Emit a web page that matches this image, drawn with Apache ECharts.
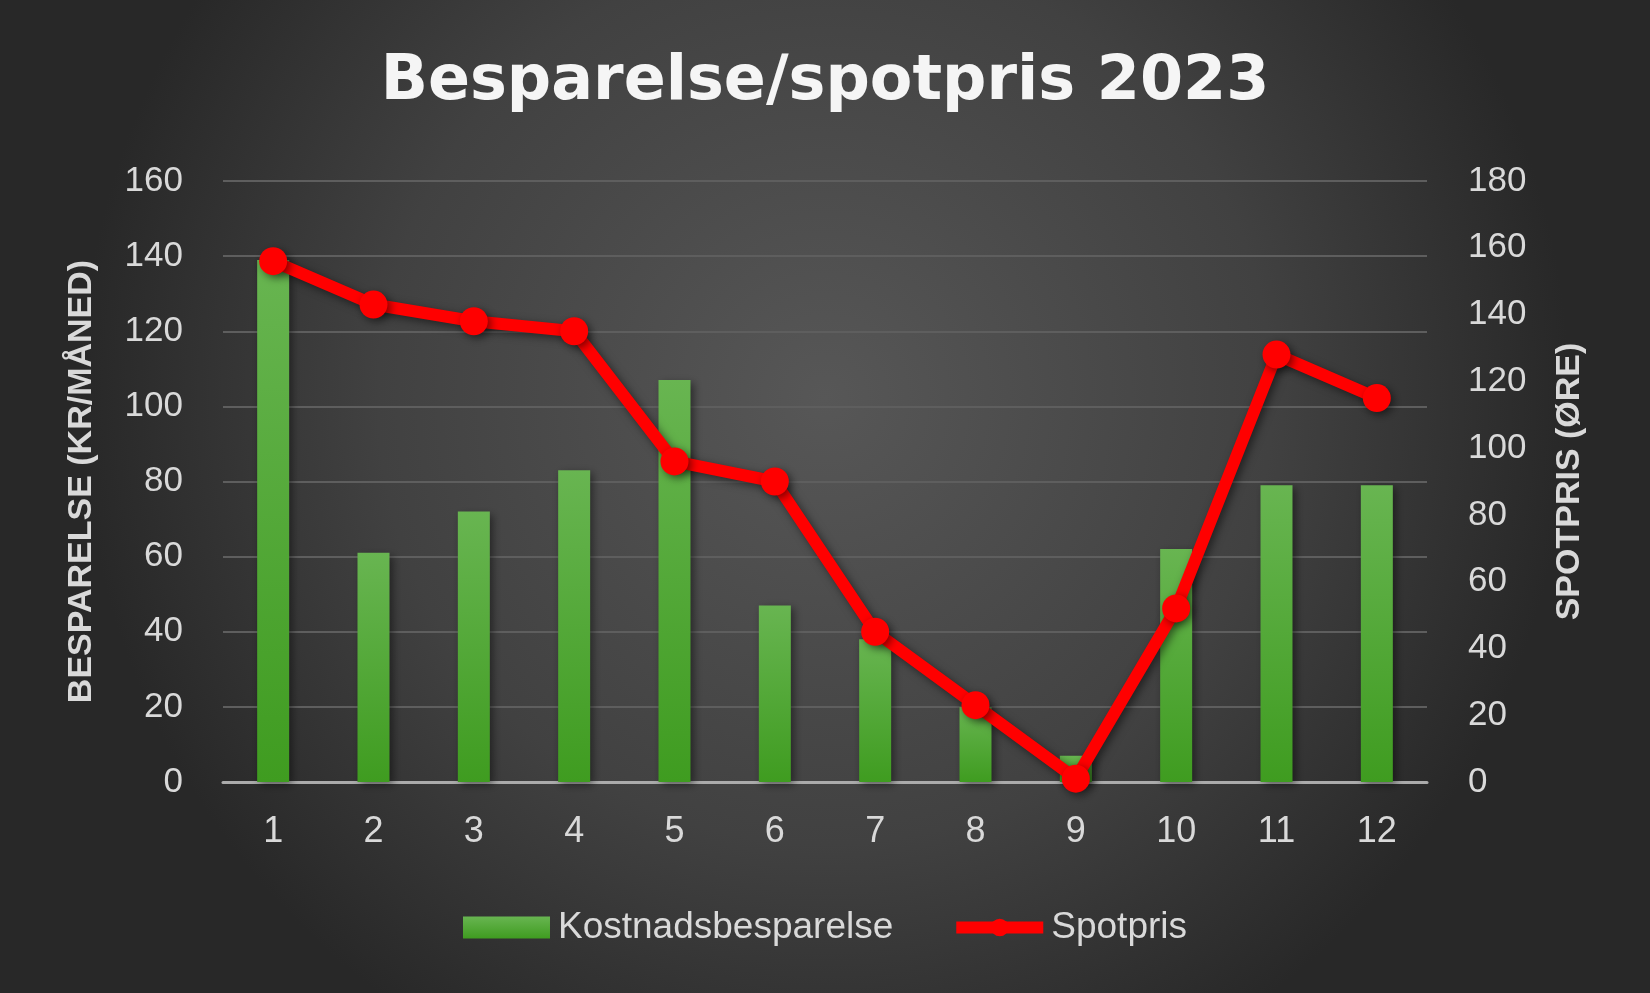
<!DOCTYPE html>
<html>
<head>
<meta charset="utf-8">
<script src="https://cdn.jsdelivr.net/npm/echarts@6/dist/echarts.min.js"></script>
<style>
html,body{margin:0;padding:0;background:#333;}
#chart{width:1650px;height:993px;}
</style>
</head>
<body>
<div id="chart"></div>
<script>
const months = ['1','2','3','4','5','6','7','8','9','10','11','12'];
const savings = [139, 61, 72, 83, 107, 47, 38, 20, 7, 62, 79, 79];
const spotprice = [156, 143, 138, 135, 96, 90, 45, 23, 1, 52, 128, 115];
const leftTicks = {min: 0, max: 160, interval: 20};
const rightTicks = {min: 0, max: 180, interval: 20};

const chart = echarts.init(document.getElementById('chart'));
const narrow = '"Liberation Sans Narrow", "Liberation Sans", Arial, sans-serif';
chart.setOption({
  backgroundColor: {
    type: 'radial', x: 0.5, y: 0.4, r: 0.75,
    colorStops: [
      {offset: 0, color: '#575757'},
      {offset: 0.6, color: '#414141'},
      {offset: 1, color: '#282828'}
    ]
  },
  title: {
    text: 'Besparelse/spotpris 2023',
    left: 'center',
    top: 47,
    textStyle: {
      color: '#f5f5f5',
      fontSize: 62,
      fontWeight: 'bold',
      fontFamily: '"DejaVu Sans", sans-serif'
    }
  },
  legend: {
    top: 904,
    left: 'center',
    itemWidth: 87,
    itemHeight: 22,
    itemGap: 57,
    textStyle: {color: '#d9d9d9', fontSize: 37, fontFamily: narrow, padding: [0, 0, 0, 3]},
    data: [
      {name: 'Kostnadsbesparelse', icon: 'rect'},
      {name: 'Spotpris', lineStyle: {width: 12, color: '#ff0000'}}
    ]
  },
  grid: {left: 223, right: 223, top: 181, bottom: 211},
  xAxis: {
    type: 'category',
    data: months,
    axisLine: {lineStyle: {color: '#ababab', width: 3}},
    axisTick: {show: false},
    axisLabel: {color: '#d9d9d9', fontSize: 36, fontFamily: narrow, margin: 32}
  },
  yAxis: [
    {
      type: 'value',
      min: leftTicks.min, max: leftTicks.max, interval: leftTicks.interval,
      name: 'BESPARELSE (KR/MÅNED)',
      nameLocation: 'middle',
      nameRotate: 90,
      nameGap: 124,
      nameTextStyle: {color: '#d9d9d9', fontSize: 34, fontWeight: 'bold', fontFamily: narrow},
      axisLine: {show: false},
      axisTick: {show: false},
      axisLabel: {color: '#d9d9d9', fontSize: 35, fontFamily: narrow, margin: 40},
      splitLine: {lineStyle: {color: '#5e5e5e', width: 2}}
    },
    {
      type: 'value',
      min: rightTicks.min, max: rightTicks.max, interval: rightTicks.interval,
      name: 'SPOTPRIS (ØRE)',
      nameLocation: 'middle',
      nameRotate: 90,
      nameGap: 126,
      nameTextStyle: {color: '#d9d9d9', fontSize: 34, fontWeight: 'bold', fontFamily: narrow},
      axisLine: {show: false},
      axisTick: {show: false},
      axisLabel: {color: '#d9d9d9', fontSize: 35, fontFamily: narrow, margin: 41},
      splitLine: {show: false}
    }
  ],
  series: [
    {
      name: 'Kostnadsbesparelse',
      type: 'bar',
      yAxisIndex: 0,
      data: savings,
      barWidth: 32,
      itemStyle: {
        color: {
          type: 'linear', x: 0, y: 0, x2: 0, y2: 1,
          colorStops: [{offset: 0, color: '#68b551'}, {offset: 1, color: '#3f9c20'}]
        },
        shadowColor: 'rgba(0,0,0,0.45)', shadowBlur: 8, shadowOffsetX: 3, shadowOffsetY: 3
      }
    },
    {
      name: 'Spotpris',
      type: 'line',
      yAxisIndex: 1,
      data: spotprice,
      symbol: 'circle',
      symbolSize: 28,
      lineStyle: {color: '#ff0000', width: 12, shadowColor: 'rgba(0,0,0,0.5)', shadowBlur: 8, shadowOffsetX: 3, shadowOffsetY: 3},
      itemStyle: {color: '#ff0000', shadowColor: 'rgba(0,0,0,0.5)', shadowBlur: 8, shadowOffsetX: 3, shadowOffsetY: 3},
      z: 5
    }
  ]
});
</script>
</body>
</html>
